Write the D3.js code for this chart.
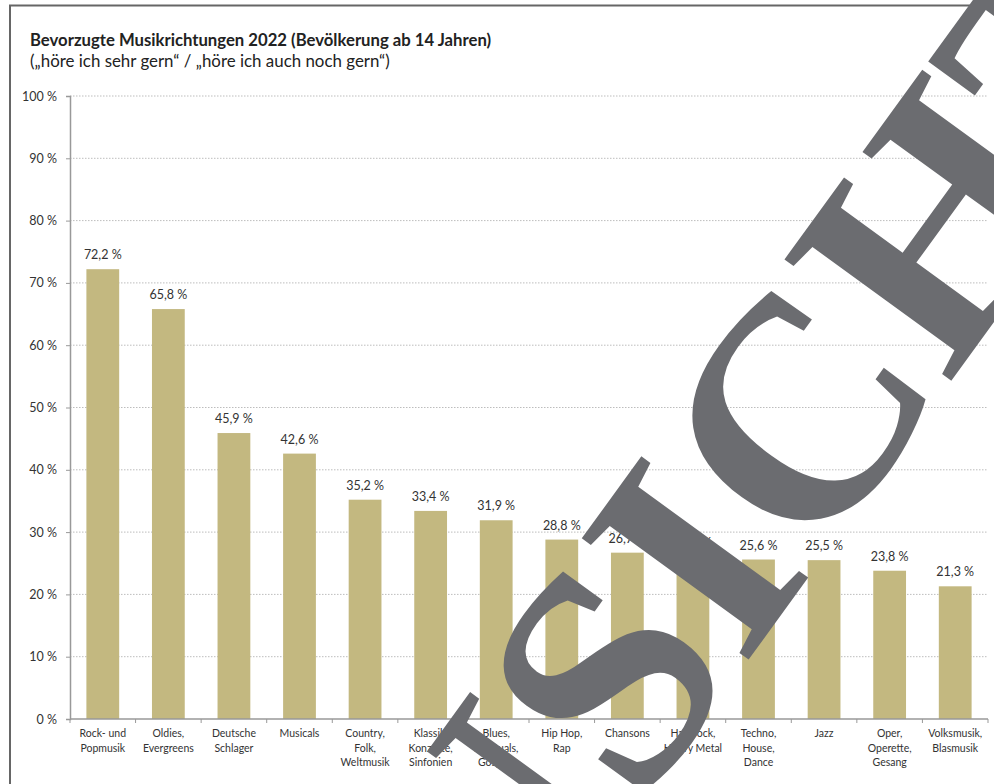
<!DOCTYPE html>
<html>
<head>
<meta charset="utf-8">
<script src="https://cdn.jsdelivr.net/npm/d3@7"></script>
<style>
  body { margin: 0; background: #fff; }
  svg { display: block; }
</style>
</head>
<body>
<svg id="chart"></svg>
<script>
// chart data
const categories = [
  ["Rock- und", "Popmusik"],
  ["Oldies,", "Evergreens"],
  ["Deutsche", "Schlager"],
  ["Musicals"],
  ["Country,", "Folk,", "Weltmusik"],
  ["Klassik,", "Konzerte,", "Sinfonien"],
  ["Blues,", "Spirituals,", "Gospels"],
  ["Hip Hop,", "Rap"],
  ["Chansons"],
  ["Hardrock,", "Heavy Metal"],
  ["Techno,", "House,", "Dance"],
  ["Jazz"],
  ["Oper,", "Operette,", "Gesang"],
  ["Volksmusik,", "Blasmusik"]
];
const values = [72.2, 65.8, 45.9, 42.6, 35.2, 33.4, 31.9, 28.8, 26.7, 26.0, 25.6, 25.5, 23.8, 21.3];
const yTicks = [0, 10, 20, 30, 40, 50, 60, 70, 80, 90, 100];
const title = "Bevorzugte Musikrichtungen 2022 (Bevölkerung ab 14 Jahren)";
const subtitle = "(„höre ich sehr gern“ / „höre ich auch noch gern“)";
const watermark = "ANSICHT";

const W = 994, H = 784;
const font = "Lato, 'Open Sans', sans-serif";
const fmt = v => v.toFixed(1).replace(".", ",") + " %";

const svg = d3.select("#chart").attr("width", W).attr("height", H);

// frame
svg.append("path")
  .attr("d", `M10,${H} V5.5 H${W}`)
  .attr("fill", "none").attr("stroke", "#666").attr("stroke-width", 2);

// titles
svg.append("text").attr("x", 30).attr("y", 46)
  .attr("font-family", font).attr("font-weight", 700).attr("font-size", 16.7)
  .attr("fill", "#222").text(title);
svg.append("text").attr("x", 30).attr("y", 67)
  .attr("font-family", font).attr("font-size", 16.9)
  .attr("fill", "#222").text(subtitle);

// scales
const x = d3.scaleBand().domain(d3.range(values.length)).range([70, 988])
  .paddingInner(0.5).paddingOuter(0.25);
const y = d3.scaleLinear().domain([0, 100]).range([719, 96]);

// gridlines
svg.append("g").selectAll("line").data(yTicks.filter(d => d > 0)).join("line")
  .attr("x1", 70).attr("x2", 988)
  .attr("y1", d => y(d)).attr("y2", d => y(d))
  .attr("stroke", "#bdbdbd").attr("stroke-width", 1)
  .attr("stroke-dasharray", "1.5,1.5");

// y axis
const yAxis = d3.axisLeft(y).tickValues(yTicks).tickSize(4).tickPadding(9)
  .tickFormat(d => d + " %");
const gy = svg.append("g").attr("transform", "translate(70,0)").call(yAxis);
gy.select(".domain").attr("stroke", "#999").attr("stroke-width", 1.5);
gy.selectAll(".tick line").attr("stroke", "#999");
gy.selectAll(".tick text").attr("font-family", font).attr("font-size", 12.5).attr("fill", "#333");

// bars
svg.append("g").selectAll("rect").data(values).join("rect")
  .attr("x", (d, i) => x(i)).attr("width", x.bandwidth())
  .attr("y", d => y(d)).attr("height", d => y(0) - y(d))
  .attr("fill", "#c3b880");

// value labels
svg.append("g").selectAll("text").data(values).join("text")
  .attr("x", (d, i) => x(i) + x.bandwidth() / 2)
  .attr("y", d => y(d) - 10)
  .attr("text-anchor", "middle")
  .attr("font-family", font).attr("font-size", 12.5).attr("fill", "#333")
  .text(d => fmt(d));

// x axis with ticks on category boundaries
const step = x.step();
const x0 = 70;
const gx = svg.append("g");
gx.append("line").attr("x1", 70).attr("x2", 988).attr("y1", y(0)).attr("y2", y(0))
  .attr("stroke", "#999").attr("stroke-width", 1.5);
gx.selectAll(".bt").data(d3.range(values.length + 1)).join("line")
  .attr("x1", k => x0 + k * step).attr("x2", k => x0 + k * step)
  .attr("y1", y(0)).attr("y2", y(0) + 4)
  .attr("stroke", "#999");

// category labels
const cl = svg.append("g").selectAll("text").data(categories).join("text")
  .attr("text-anchor", "middle")
  .attr("font-family", font).attr("font-size", 10.5).attr("fill", "#333")
  .attr("transform", (d, i) => `translate(${x(i) + x.bandwidth() / 2},737)`);
cl.selectAll("tspan").data(d => d).join("tspan")
  .attr("x", 0).attr("y", (d, j) => j * 14.5).text(d => d);

// watermark
svg.append("text")
  .attr("transform", "translate(372,1178) rotate(-54)")
  .attr("font-family", "'Liberation Serif', serif").attr("font-weight", 700)
  .attr("font-size", 315).attr("fill", "#6b6c70")
  .text(watermark);
</script>
</body>
</html>
